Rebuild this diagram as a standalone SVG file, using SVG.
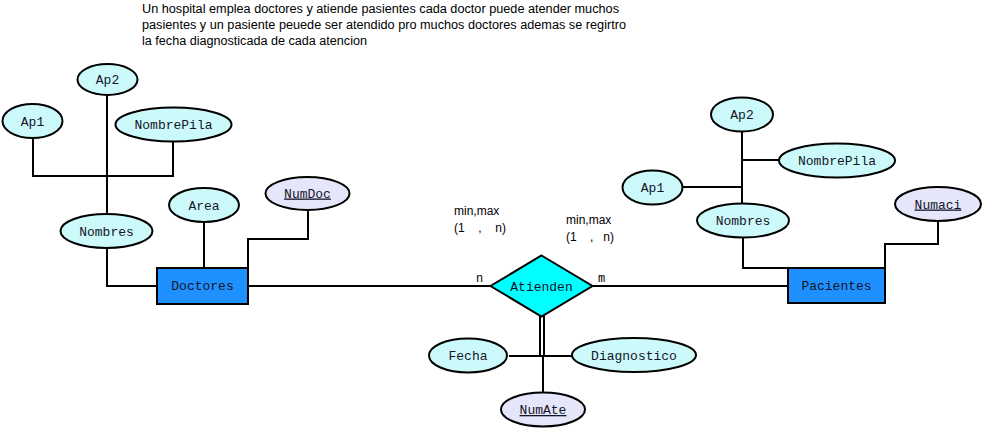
<svg xmlns="http://www.w3.org/2000/svg" width="984" height="430" viewBox="0 0 984 430">
<style>
.attr{fill:#ccfafa;stroke:#000;stroke-width:2}
.key{fill:#e6e6fa;stroke:#000;stroke-width:2}
.ent{fill:#1e90ff;stroke:#000;stroke-width:2}
.rel{fill:#00ffff;stroke:#000;stroke-width:2}
.lbl{font-family:"Liberation Mono",monospace;font-size:13px;fill:#141428;text-anchor:middle}
.note{font-family:"Liberation Sans",Arial,sans-serif;font-size:12px;fill:#000}
.card{font-family:"Liberation Sans",Arial,sans-serif;font-size:12px;fill:#000;white-space:pre}
.cm{font-family:"Liberation Mono",monospace;font-size:12px;fill:#000}
#connectors path{fill:none;stroke:#000;stroke-width:2}
</style>
<rect width="984" height="430" fill="#fff"/>
<g id="description">
<text class="note" x="142" y="13" textLength="477" lengthAdjust="spacingAndGlyphs">Un hospital emplea doctores y atiende pasientes cada doctor puede atender muchos</text>
<text class="note" x="142" y="29" textLength="484" lengthAdjust="spacingAndGlyphs">pasientes y un pasiente peuede ser atendido pro muchos doctores ademas se regirtro</text>
<text class="note" x="142" y="45" textLength="225" lengthAdjust="spacingAndGlyphs">la fecha diagnosticada de cada atencion</text>
</g>
<g id="connectors">
<path d="M33,138 V176 H173 V142"/>
<path d="M107,95 V214"/>
<path d="M107,248 V286 H157"/>
<path d="M204,222 V268"/>
<path d="M308,210 V239 H248 V268"/>
<path d="M248,286 H490"/>
<path d="M593,286 H788"/>
<path d="M742,132 V203"/>
<path d="M779,160 H742"/>
<path d="M683,187 H742"/>
<path d="M743,238 V268 H788"/>
<path d="M938,221 V244 H885 V268"/>
<path d="M540,316 V355 M544,316 V355"/>
<path d="M509,356 H572"/>
<path d="M543,355 V393"/>
</g>
<g id="cardinalities">
<text class="cm" x="476" y="282">n</text>
<text class="cm" x="598" y="282">m</text>
<text class="card" x="454" y="215">min,max</text>
<text class="card" x="454" y="232" textLength="52" lengthAdjust="spacing" xml:space="preserve">(1    ,    n)</text>
<text class="card" x="566" y="224">min,max</text>
<text class="card" x="566" y="241" textLength="48" lengthAdjust="spacing" xml:space="preserve">(1    ,   n)</text>
</g>
<g id="Doctores"><rect class="ent" x="157" y="268" width="91" height="36"/><text class="lbl" x="202.5" y="290">Doctores</text></g>
<g id="Pacientes"><rect class="ent" x="788" y="268" width="97" height="35"/><text class="lbl" x="836.5" y="290">Pacientes</text></g>
<g id="Atienden"><polygon class="rel" points="541.5,255.5 592.5,286 541.5,316.5 490.5,286"/><text class="lbl" x="541.5" y="291">Atienden</text></g>
<g id="Ap2_doc"><ellipse class="attr" cx="107.5" cy="79.5" rx="30" ry="15.5"/><text class="lbl" x="107.5" y="84">Ap2</text></g>
<g id="Ap1_doc"><ellipse class="attr" cx="32.5" cy="121" rx="30" ry="17"/><text class="lbl" x="32.5" y="125.5">Ap1</text></g>
<g id="NombrePila_doc"><ellipse class="attr" cx="173.5" cy="124.5" rx="58" ry="17"/><text class="lbl" x="173.5" y="129">NombrePila</text></g>
<g id="Nombres_doc"><ellipse class="attr" cx="106.5" cy="231" rx="46" ry="17"/><text class="lbl" x="106.5" y="235.5">Nombres</text></g>
<g id="Area"><ellipse class="attr" cx="204" cy="205" rx="35" ry="17"/><text class="lbl" x="204" y="209.5">Area</text></g>
<g id="NumDoc"><ellipse class="key" cx="307.5" cy="193.5" rx="42" ry="16.5"/><text class="lbl" x="307.5" y="197.5" text-decoration="underline">NumDoc</text></g>
<g id="Ap2_pac"><ellipse class="attr" cx="742" cy="114.5" rx="31" ry="17"/><text class="lbl" x="742" y="119">Ap2</text></g>
<g id="NombrePila_pac"><ellipse class="attr" cx="837" cy="160.5" rx="58" ry="17"/><text class="lbl" x="837" y="165">NombrePila</text></g>
<g id="Ap1_pac"><ellipse class="attr" cx="652.5" cy="187.5" rx="30" ry="17"/><text class="lbl" x="652.5" y="192">Ap1</text></g>
<g id="Nombres_pac"><ellipse class="attr" cx="743" cy="220.5" rx="46" ry="17"/><text class="lbl" x="743" y="225">Nombres</text></g>
<g id="Numaci"><ellipse class="key" cx="938" cy="204" rx="43" ry="17"/><text class="lbl" x="938" y="208.5" text-decoration="underline">Numaci</text></g>
<g id="Fecha"><ellipse class="attr" cx="468" cy="355.5" rx="39" ry="17"/><text class="lbl" x="468" y="360">Fecha</text></g>
<g id="Diagnostico"><ellipse class="attr" cx="634" cy="355" rx="62" ry="17"/><text class="lbl" x="634" y="359.5">Diagnostico</text></g>
<g id="NumAte"><ellipse class="key" cx="543" cy="409.5" rx="42" ry="17"/><text class="lbl" x="543" y="414" text-decoration="underline">NumAte</text></g>
</svg>
